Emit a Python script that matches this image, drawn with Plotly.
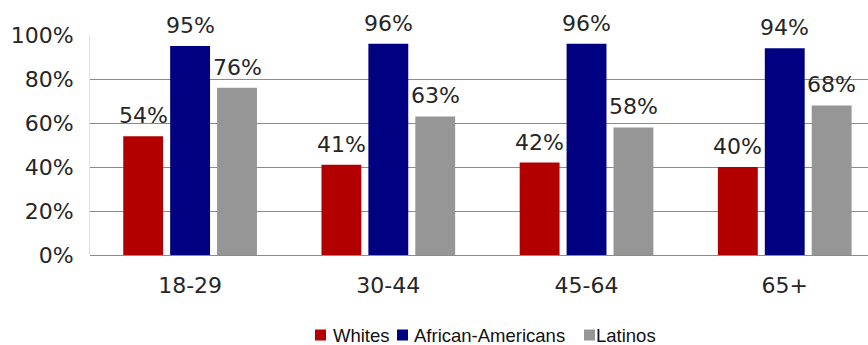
import plotly.graph_objects as go

age_groups = ["18-29", "30-44", "45-64", "65+"]
whites = [54, 41, 42, 40]
african_americans = [95, 96, 96, 94]
latinos = [76, 63, 58, 68]
y_ticks = [0, 20, 40, 60, 80, 100]

series = [
    ("Whites", whites, "#B20000"),
    ("African-Americans", african_americans, "#000080"),
    ("Latinos", latinos, "#969696"),
]

# figure geometry (pixels)
W, H = 868, 345
M_L, M_R, M_T, M_B = 90, 0, 35, 90
PLOT_W = W - M_L - M_R
PLOT_H = H - M_T - M_B
X_RANGE = [-0.505, 3.42]
BARGAP = 0.29
BARGROUPGAP = 0.15

LABEL_FONT = dict(family="DejaVu Sans", size=22, color="#262626")


def px_x(px):
    return (px - M_L) / PLOT_W


def px_y(py):
    return (M_T + PLOT_H - py) / PLOT_H


fig = go.Figure()
for name, values, color in series:
    fig.add_trace(go.Bar(
        x=age_groups,
        y=values,
        name=name,
        marker=dict(color=color, line=dict(width=0)),
        showlegend=False,
    ))

# value labels above each bar, offset to the bar's slot within its group
cat_px = PLOT_W / (X_RANGE[1] - X_RANGE[0])
slot_px = cat_px * (1 - BARGAP) / len(series)
for i, (name, values, color) in enumerate(series):
    for cat, v in zip(age_groups, values):
        fig.add_annotation(
            x=cat, y=v, xref="x", yref="y",
            text=f"{v}%",
            showarrow=False,
            xanchor="center", yanchor="bottom",
            xshift=(i - (len(series) - 1) / 2) * slot_px,
            yshift=6,
            font=LABEL_FONT,
        )

# legend row: coloured squares followed by series names
LEGEND_MID = 335
legend_items = [(315, 331), (397, 412), (584, 594)]
for (sq_px, txt_px), (name, _, color) in zip(legend_items, series):
    fig.add_shape(
        type="rect", xref="paper", yref="paper",
        x0=px_x(sq_px), x1=px_x(sq_px + 11),
        y0=px_y(LEGEND_MID + 5.5), y1=px_y(LEGEND_MID - 5.5),
        fillcolor=color, line=dict(width=0),
    )
    fig.add_annotation(
        text=name, xref="paper", yref="paper",
        x=px_x(txt_px), xanchor="left",
        y=px_y(LEGEND_MID), yanchor="middle",
        showarrow=False,
        font=dict(family="Liberation Sans", size=18.5, color="#111111"),
    )

fig.update_layout(
    width=W,
    height=H,
    margin=dict(l=M_L, r=M_R, t=M_T, b=M_B),
    paper_bgcolor="white",
    plot_bgcolor="white",
    barmode="group",
    bargap=BARGAP,
    bargroupgap=BARGROUPGAP,
    xaxis=dict(
        type="category",
        range=X_RANGE,
        showgrid=False,
        showline=False,
        ticks="outside",
        ticklen=11,
        tickcolor="rgba(0,0,0,0)",
        tickfont=LABEL_FONT,
    ),
    yaxis=dict(
        range=[0, 100],
        tickvals=y_ticks,
        ticktext=[f"{v}%" for v in y_ticks],
        showgrid=True,
        gridcolor="#8c8c8c",
        gridwidth=1,
        zeroline=True,
        zerolinecolor="#8c8c8c",
        zerolinewidth=1,
        showline=True,
        linecolor="#e0e0e0",
        linewidth=1,
        ticks="outside",
        ticklen=11,
        tickcolor="rgba(0,0,0,0)",
        tickfont=LABEL_FONT,
    ),
)

fig.write_html("out.html")
